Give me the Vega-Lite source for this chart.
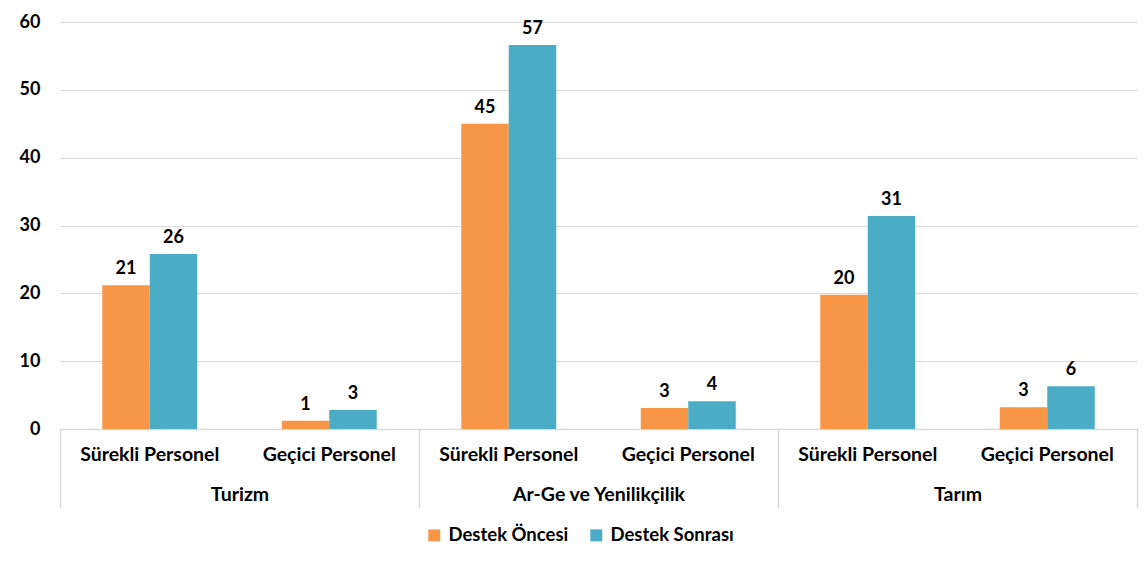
{
  "$schema": "https://vega.github.io/schema/vega-lite/v6.json",
  "width": 1077,
  "height": 407,
  "autosize": {"type": "none"},
  "padding": {"left": 60, "top": 22, "right": 7, "bottom": 133},
  "background": "white",
  "config": {"font": "Lato", "view": {"stroke": null}},
  "data": {
    "values": [
      {"category": "Turizm", "grp": "Turizm|Sürekli Personel", "series": "Destek Öncesi", "value": 21.2},
      {"category": "Turizm", "grp": "Turizm|Sürekli Personel", "series": "Destek Sonrası", "value": 25.8},
      {"category": "Turizm", "grp": "Turizm|Geçici Personel", "series": "Destek Öncesi", "value": 1.2},
      {"category": "Turizm", "grp": "Turizm|Geçici Personel", "series": "Destek Sonrası", "value": 2.8},
      {"category": "Ar-Ge ve Yenilikçilik", "grp": "Ar-Ge ve Yenilikçilik|Sürekli Personel", "series": "Destek Öncesi", "value": 45.0},
      {"category": "Ar-Ge ve Yenilikçilik", "grp": "Ar-Ge ve Yenilikçilik|Sürekli Personel", "series": "Destek Sonrası", "value": 56.6},
      {"category": "Ar-Ge ve Yenilikçilik", "grp": "Ar-Ge ve Yenilikçilik|Geçici Personel", "series": "Destek Öncesi", "value": 3.1},
      {"category": "Ar-Ge ve Yenilikçilik", "grp": "Ar-Ge ve Yenilikçilik|Geçici Personel", "series": "Destek Sonrası", "value": 4.1},
      {"category": "Tarım", "grp": "Tarım|Sürekli Personel", "series": "Destek Öncesi", "value": 19.8},
      {"category": "Tarım", "grp": "Tarım|Sürekli Personel", "series": "Destek Sonrası", "value": 31.4},
      {"category": "Tarım", "grp": "Tarım|Geçici Personel", "series": "Destek Öncesi", "value": 3.2},
      {"category": "Tarım", "grp": "Tarım|Geçici Personel", "series": "Destek Sonrası", "value": 6.3}
    ]
  },
  "layer": [
    {
      "mark": {"type": "bar"},
      "encoding": {
        "x": {
          "field": "grp", "type": "nominal", "sort": null,
          "scale": {"paddingInner": 0, "paddingOuter": 0},
          "axis": {
            "orient": "bottom",
            "labelExpr": "split(datum.value, '|')[1]",
            "domain": false, "ticks": false, "grid": false, "labelAngle": 0,
            "labelPadding": 16, "labelFont": "Lato", "labelFontWeight": "bold",
            "labelFontSize": 19.5, "labelColor": "#000000", "title": null
          }
        },
        "xOffset": {
          "field": "series", "type": "nominal", "sort": ["Destek Öncesi", "Destek Sonrası"],
          "scale": {"paddingOuter": 0.89, "paddingInner": 0}
        },
        "y": {
          "field": "value", "type": "quantitative",
          "scale": {"domain": [0, 60]},
          "axis": {
            "values": [0, 10, 20, 30, 40, 50, 60],
            "domain": false, "ticks": false, "gridColor": "#d9d9d9",
            "labelPadding": 20, "labelFont": "Lato", "labelFontWeight": "bold",
            "labelFontSize": 18, "labelColor": "#000000", "title": null
          }
        },
        "color": {
          "field": "series", "type": "nominal",
          "scale": {"domain": ["Destek Öncesi", "Destek Sonrası"], "range": ["#F79646", "#4BACC6"]},
          "legend": {
            "orient": "none", "legendX": 365, "legendY": 504,
            "direction": "horizontal", "title": null,
            "symbolType": "square", "symbolSize": 144, "symbolStrokeWidth": 0,
            "labelFont": "Lato", "labelFontWeight": "bold", "labelFontSize": 18.5,
            "labelColor": "#000000", "columnPadding": 18, "labelOffset": 5
          }
        }
      }
    },
    {
      "mark": {"type": "text", "baseline": "alphabetic", "dy": -11, "font": "Lato", "fontWeight": "bold", "fontSize": 18, "color": "#000000"},
      "encoding": {
        "x": {"field": "grp", "type": "nominal", "sort": null, "scale": {"paddingInner": 0, "paddingOuter": 0}, "axis": null},
        "xOffset": {"field": "series", "type": "nominal", "sort": ["Destek Öncesi", "Destek Sonrası"], "scale": {"paddingOuter": 0.89, "paddingInner": 0}},
        "y": {"field": "value", "type": "quantitative"},
        "text": {"field": "value", "type": "quantitative", "format": ".0f"}
      }
    },
    {
      "mark": {"type": "rule", "opacity": 0},
      "encoding": {
        "x": {
          "field": "category", "type": "nominal",
          "sort": ["Turizm", "Ar-Ge ve Yenilikçilik", "Tarım"],
          "scale": {"paddingInner": 0, "paddingOuter": 0},
          "axis": {
            "orient": "bottom",
            "domain": true, "domainColor": "#d9d9d9", "domainWidth": 1.5,
            "ticks": true, "tickColor": "#d9d9d9", "tickWidth": 1.5, "tickSize": 79, "tickBand": "extent",
            "grid": false, "labelAngle": 0, "labelPadding": -23,
            "labelFont": "Lato", "labelFontWeight": "bold", "labelFontSize": 19.5,
            "labelColor": "#000000", "title": null
          }
        }
      }
    }
  ],
  "resolve": {"scale": {"x": "independent"}, "axis": {"x": "independent"}}
}
